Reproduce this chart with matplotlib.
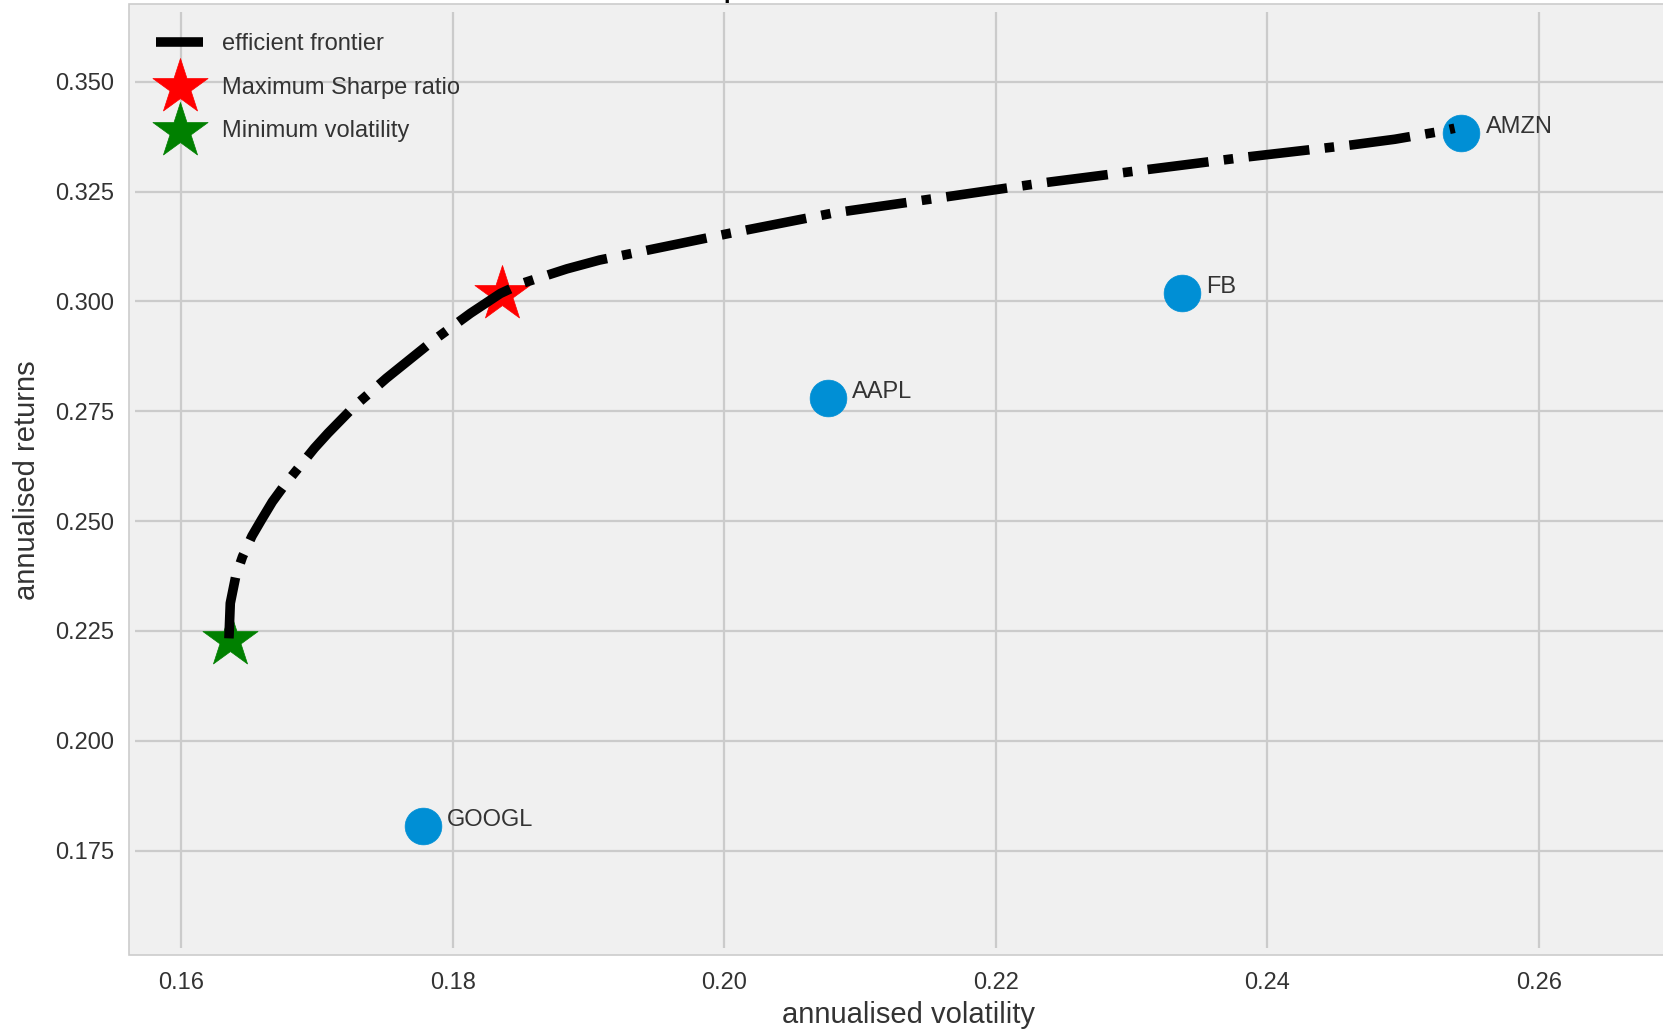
import matplotlib.pyplot as plt
from matplotlib.patches import Rectangle

plt.style.use('fivethirtyeight')
plt.rcParams['font.family'] = ['Liberation Sans', 'DejaVu Sans']
plt.rcParams['text.color'] = '#333333'
plt.rcParams['xtick.color'] = '#333333'
plt.rcParams['ytick.color'] = '#333333'
plt.rcParams['axes.labelcolor'] = '#333333'

# individual stocks: annualised volatility / returns
tickers = ['AAPL', 'AMZN', 'GOOGL', 'FB']
an_vol = [0.2076, 0.2543, 0.1778, 0.2337]
an_rt = [0.2781, 0.3384, 0.1806, 0.3020]

# optimised portfolios
sdp, rp = 0.1836, 0.3017          # maximum sharpe ratio
sdp_min, rp_min = 0.1636, 0.2230  # minimum volatility

# efficient frontier
ef_vol = [0.1635, 0.1636, 0.1640, 0.1645, 0.1652, 0.1659, 0.1667, 0.1676,
          0.1687, 0.1698, 0.1708, 0.1727, 0.1751, 0.1786, 0.1813, 0.1835,
          0.1851, 0.1884, 0.1908, 0.2004, 0.2080, 0.2157, 0.2233, 0.2309,
          0.2386, 0.2462, 0.2494, 0.2526, 0.2538]
ef_ret = [0.2233, 0.2313, 0.2374, 0.2419, 0.2466, 0.2503, 0.2544, 0.2582,
          0.2624, 0.2666, 0.2700, 0.2760, 0.2825, 0.2912, 0.2973, 0.3018,
          0.3041, 0.3074, 0.3094, 0.3155, 0.3201, 0.3235, 0.3269, 0.3299,
          0.3329, 0.3356, 0.3369, 0.3386, 0.3394]

xticks = [0.16, 0.18, 0.20, 0.22, 0.24, 0.26]
yticks = [0.175, 0.200, 0.225, 0.250, 0.275, 0.300, 0.325, 0.350]

fig = plt.figure(figsize=(16.63, 10.29), dpi=100, facecolor='white')
# outer panel with thin grey border (axes extends past right edge)
fig.add_artist(Rectangle((129 / 1663, 74 / 1029), 1559 / 1663, 951 / 1029,
                         transform=fig.transFigure, facecolor='#f0f0f0',
                         edgecolor='#cccccc', lw=1.2, zorder=-1))
ax = fig.add_axes([135 / 1663, 81 / 1029, 1546 / 1663, 936 / 1029])
for s in ax.spines.values():
    s.set_visible(False)

ax.plot(ef_vol, ef_ret, linestyle='-.', color='black', lw=6.9,
        label='efficient frontier', zorder=3)
ax.scatter(an_vol, an_rt, marker='o', s=700, color='#008fd5')
for i, txt in enumerate(tickers):
    ax.annotate(txt, (an_vol[i], an_rt[i]), xytext=(17.5, 0),
                textcoords='offset points', fontsize=17)
ax.scatter(sdp, rp, marker='*', color='r', s=1745, label='Maximum Sharpe ratio')
ax.scatter(sdp_min, rp_min, marker='*', color='g', s=1745, label='Minimum volatility')

ax.set_title('Portfolio Optimization with Individual Stocks', fontsize=27, pad=12, color='black')
ax.set_xlabel('annualised volatility', fontsize=21, labelpad=5)
ax.set_ylabel('annualised returns', fontsize=21, labelpad=10)

ax.set_xlim(0.15658, 0.27048)
ax.set_ylim(0.15283, 0.36586)
ax.set_xticks(xticks)
ax.set_yticks(yticks)
ax.tick_params(axis='x', labelsize=17, pad=17)
ax.tick_params(axis='y', labelsize=17, pad=15)
ax.grid(True, color='#cbcbcb', lw=1.6)

ax.legend(labelspacing=0.9, fontsize=17, frameon=False, loc='upper left')

fig.savefig('out.png', dpi=100, facecolor='white')
